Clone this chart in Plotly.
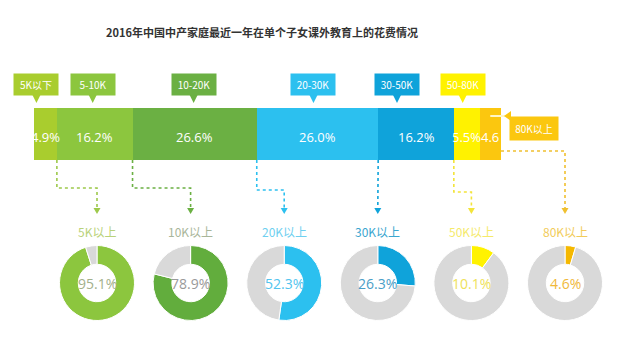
import plotly.graph_objects as go

# ---------------- data ----------------
TITLE = "2016年中国中产家庭最近一年在单个子女课外教育上的花费情况"
CATEGORIES = ["5K以下", "5-10K", "10-20K", "20-30K", "30-50K", "50-80K", "80K以上"]
SHARES = [4.9, 16.2, 26.6, 26.0, 16.2, 5.5, 4.6]
SHARE_TEXT = ["4.9%", "16.2%", "26.6%", "26.0%", "16.2%", "5.5%", "4.6"]
DONUT_LABELS = ["5K以上", "10K以上", "20K以上", "30K以上", "50K以上", "80K以上"]
DONUT_VALUES = [95.1, 78.9, 52.3, 26.3, 10.1, 4.6]

# ---------------- styles ----------------
W, H = 630, 350
BAR_X0, BAR_W = 34, 467          # pixel extent of the 100% bar
BAR_YC, BAR_H = 134, 52          # pixel centre / height of bar
SEG_COLORS = ["#a9cd2e", "#8cc63e", "#6bb043", "#2cc0ef", "#0fa3da", "#fff200", "#fbc70f"]
LABEL_SHIFT = [-9, -2, -1, -4, -19, -4]   # callout offsets (px) from segment centre
DONUT_COLORS = ["#8cc63e", "#62ad3d", "#2cc0ef", "#0fa3da", "#fff200", "#f5b800"]
DONUT_TEXT_COLORS = ["#a3b08a", "#9a9a9a", "#52c4ee", "#4a9ec7", "#eee25a", "#f0b83a"]
DONUT_LABEL_COLORS = ["#b9d27a", "#a9b69a", "#6fd0f0", "#3aa6cf", "#f5ea6a", "#f2cc5a"]
LINE_COLORS = ["#9dc94b", "#6bb043", "#2cc0ef", "#0fa3da", "#f3e43a", "#f0c030"]
DONUT_CX0, DONUT_DX = 97, 93.6
DONUT_CY, DONUT_R = 283, 37.5
FONT = "Noto Sans CJK SC"
GREY = "#d9d9d9"

def pct2px(p):
    return BAR_X0 + p / 100 * BAR_W

def px2pct(x):
    return (x - BAR_X0) / BAR_W * 100

fig = go.Figure()

# stacked bar (x axis in percent, y axis in pixels)
cum = []
c = 0
for cat, v, col in zip(CATEGORIES, SHARES, SEG_COLORS):
    fig.add_trace(go.Bar(x=[v], y=[BAR_YC], width=[BAR_H], orientation="h", name=cat,
                         marker=dict(color=col, line=dict(width=0)), hoverinfo="name+x",
                         showlegend=False))
    cum.append((c, c + v))
    c += v

annotations = []
shapes = []

# percent labels
for (a, b), t in zip(cum, SHARE_TEXT):
    annotations.append(dict(x=(a + b) / 2, y=BAR_YC + 3, xref="x", yref="y", text=t,
                            showarrow=False, xanchor="center",
                            font=dict(family="Open Sans", size=13, color="white")))

# callout boxes above the bar
for i, cat in enumerate(CATEGORIES[:-1]):
    a, b = cum[i]
    cx = pct2px((a + b) / 2) + LABEL_SHIFT[i]
    annotations.append(dict(x=px2pct(cx), y=84, xref="x", yref="y", text=cat, showarrow=False,
                            xanchor="center", bgcolor=SEG_COLORS[i], borderpad=3, width=38,
                            font=dict(family=FONT, size=10, color="white")))
    shapes.append(dict(type="path", xref="paper", yref="paper",
                       path=f"M {(cx-5)/W} {1-93/H} L {(cx+5)/W} {1-93/H} L {cx/W} {1-103/H} Z",
                       fillcolor=SEG_COLORS[i], line=dict(width=0)))

# 80K以上 callout on the right side
a, b = cum[-1]
annotations.append(dict(x=534 / W, y=1 - 116 / H, xref="paper", yref="paper", xanchor="center",
                        text=CATEGORIES[-1], showarrow=False, bgcolor=SEG_COLORS[-1], borderpad=4,
                        width=40, font=dict(family=FONT, size=10, color="white")))
px80 = pct2px((a + b) / 2)
shapes.append(dict(type="line", xref="paper", yref="paper", x0=px80 / W, x1=506 / W,
                   y0=1 - 116 / H, y1=1 - 116 / H, line=dict(color="#fff6c8", width=2)))
shapes.append(dict(type="path", xref="paper", yref="paper",
                   path=f"M {511/W} {1-111/H} L {511/W} {1-121/H} L {504/W} {1-116/H} Z",
                   fillcolor=SEG_COLORS[-1], line=dict(width=0)))

# dotted connectors from bar to donuts
bar_bottom = BAR_YC + BAR_H / 2
arrow_tip = 214
for k in range(6):
    dcx = DONUT_CX0 + k * DONUT_DX
    col = LINE_COLORS[k]
    if k < 5:
        sx = pct2px(cum[k][1])
        ymid = 188 if k < 2 else (190 if k < 4 else 192)
        pts = [(sx, bar_bottom), (sx, ymid), (dcx, ymid), (dcx, arrow_tip - 5)]
    else:
        sx = pct2px(cum[-1][1])
        pts = [(sx, 151), (dcx, 151), (dcx, arrow_tip - 5)]
    fig.add_trace(go.Scatter(x=[px2pct(p[0]) for p in pts], y=[p[1] for p in pts],
                             mode="lines", line=dict(color=col, width=1.6, dash="dot"),
                             hoverinfo="skip", showlegend=False))
    shapes.append(dict(type="path", xref="paper", yref="paper",
                       path=f"M {(dcx-3.5)/W} {1-(arrow_tip-6)/H} L {(dcx+3.5)/W} {1-(arrow_tip-6)/H} "
                            f"L {dcx/W} {1-arrow_tip/H} Z",
                       fillcolor=col, line=dict(width=0)))
    # donut
    fig.add_trace(go.Pie(values=[DONUT_VALUES[k], 100 - DONUT_VALUES[k]],
                         labels=[DONUT_LABELS[k], "其他"], hole=0.5, sort=False,
                         direction="clockwise", rotation=0, textinfo="none",
                         marker=dict(colors=[DONUT_COLORS[k], GREY], line=dict(color="white", width=1)),
                         domain=dict(x=[(dcx - DONUT_R) / W, (dcx + DONUT_R) / W],
                                     y=[1 - (DONUT_CY + DONUT_R) / H, 1 - (DONUT_CY - DONUT_R) / H]),
                         showlegend=False, hoverinfo="label+value"))
    annotations.append(dict(x=dcx / W, y=1 - DONUT_CY / H, xref="paper", yref="paper",
                            xanchor="center", yanchor="middle",
                            text=f"{DONUT_VALUES[k]}%", showarrow=False,
                            font=dict(family="Open Sans", size=14, color=DONUT_TEXT_COLORS[k])))
    annotations.append(dict(x=dcx / W, y=1 - 232 / H, xref="paper", yref="paper",
                            xanchor="center", yanchor="middle",
                            text=DONUT_LABELS[k], showarrow=False,
                            font=dict(family=FONT, size=12, color=DONUT_LABEL_COLORS[k])))

# title
annotations.append(dict(x=262 / W, y=1 - 32 / H, xref="paper", yref="paper",
                        xanchor="center", yanchor="middle",
                        text=f"<b>{TITLE}</b>", showarrow=False,
                        font=dict(family=FONT, size=11, color="#333333")))

fig.update_layout(
    width=W, height=H, margin=dict(l=0, r=0, t=0, b=0),
    paper_bgcolor="white", plot_bgcolor="rgba(0,0,0,0)",
    barmode="stack", bargap=0,
    xaxis=dict(range=[px2pct(0), px2pct(W)], domain=[0, 1], visible=False, fixedrange=True),
    yaxis=dict(range=[H, 0], domain=[0, 1], visible=False, fixedrange=True),
    annotations=annotations, shapes=shapes,
)

fig.write_html("out.html")
